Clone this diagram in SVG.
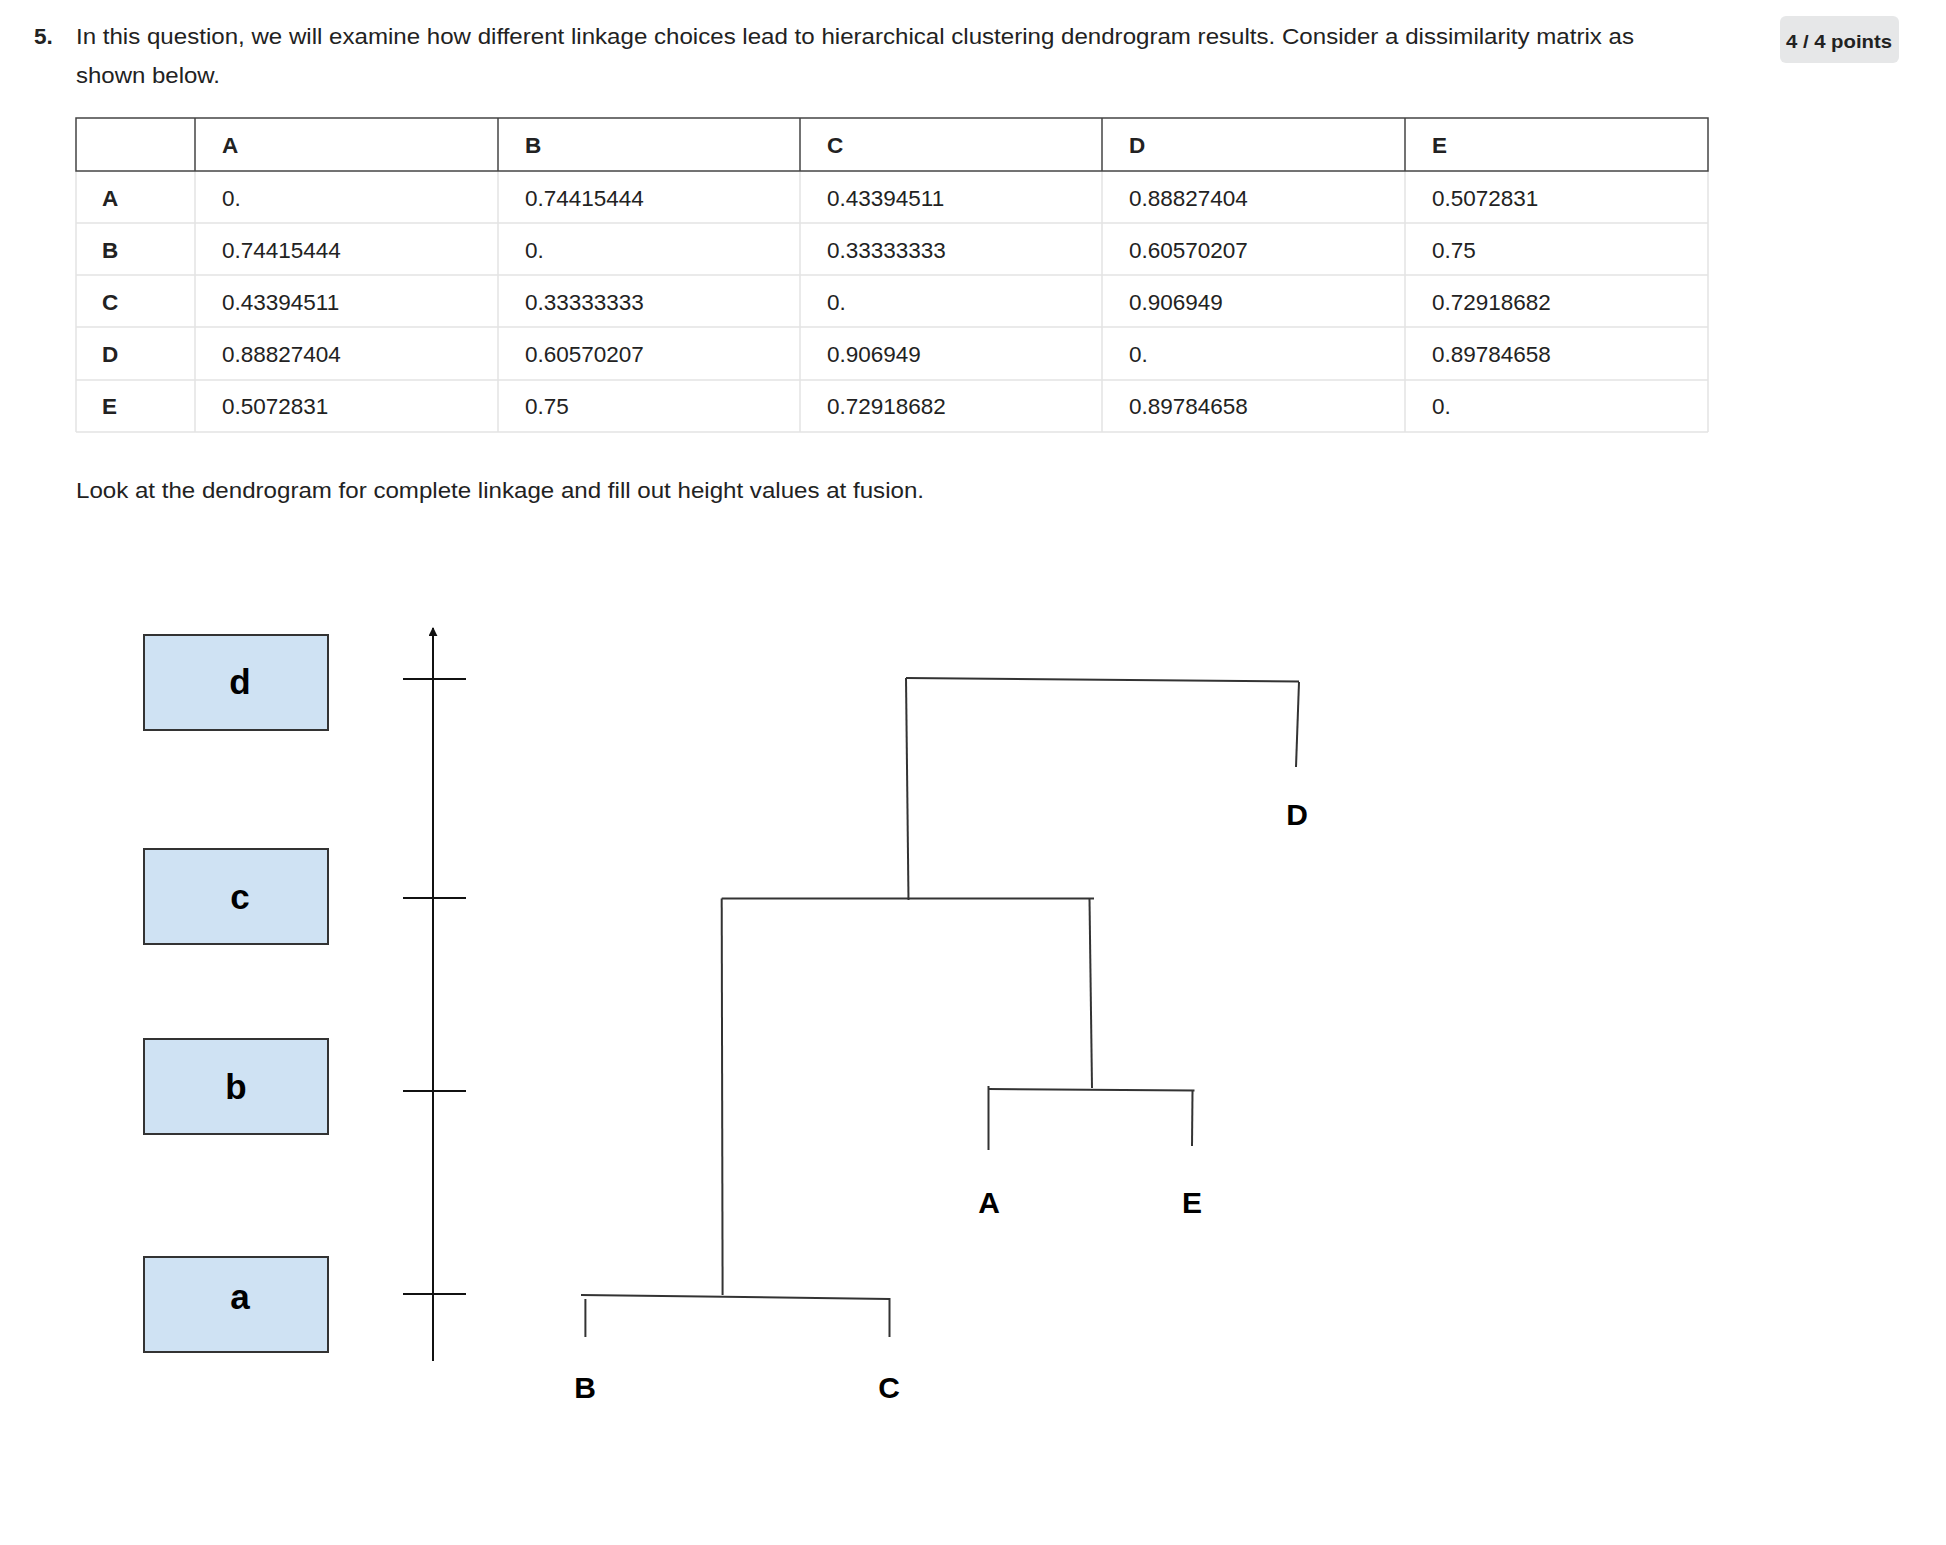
<svg xmlns="http://www.w3.org/2000/svg" width="1946" height="1545" viewBox="0 0 1946 1545">
<style>
.t{font-family:"Liberation Sans",Arial,sans-serif;fill:#222;font-size:22.5px}
.tb{font-family:"Liberation Sans",Arial,sans-serif;fill:#222;font-size:22.5px;font-weight:bold}
.hdr{stroke:#444;stroke-width:1.5;fill:none}
.cell{stroke:#e3e3e3;stroke-width:1.5;fill:none}
.box{fill:#cfe2f3;stroke:#333;stroke-width:2}
.bl{font-family:"Liberation Sans",Arial,sans-serif;font-weight:bold;font-size:35px;fill:#000;text-anchor:middle}
.leaf{font-family:"Liberation Sans",Arial,sans-serif;font-weight:bold;font-size:30px;fill:#000;text-anchor:middle}
.ln{stroke:#333;stroke-width:2;fill:none;stroke-linecap:butt}
.ax{stroke:#111;stroke-width:2;fill:none}
</style>
<defs>
<marker id="arr" viewBox="0 0 10 10" refX="9" refY="5" markerWidth="4.5" markerHeight="4.5" orient="auto" markerUnits="strokeWidth">
<path d="M0,0 L10,5 L0,10 z" fill="#111"/>
</marker>
</defs>
<rect width="1946" height="1545" fill="#fff"/>

<g id="question">
<text x="34" y="44" class="tb">5.</text>
<text x="76" y="44" class="t" textLength="1558" lengthAdjust="spacingAndGlyphs">In this question, we will examine how different linkage choices lead to hierarchical clustering dendrogram results. Consider a dissimilarity matrix as</text>
<text x="76" y="83" class="t" textLength="144" lengthAdjust="spacingAndGlyphs">shown below.</text>
</g>

<g id="badge">
<rect x="1780" y="16" width="119" height="47" rx="6" fill="#e6e7e8"/>
<text x="1786" y="48" font-family="Liberation Sans, Arial, sans-serif" font-weight="bold" font-size="19" fill="#222" textLength="106" lengthAdjust="spacingAndGlyphs">4 / 4 points</text>
</g>

<g id="matrix">
<g id="matrix-grid">
<line class="cell" x1="76" y1="223" x2="1708" y2="223"/>
<line class="cell" x1="76" y1="275" x2="1708" y2="275"/>
<line class="cell" x1="76" y1="327" x2="1708" y2="327"/>
<line class="cell" x1="76" y1="380" x2="1708" y2="380"/>
<line class="cell" x1="76" y1="432" x2="1708" y2="432"/>
<line class="cell" x1="76" y1="171" x2="76" y2="432"/>
<line class="cell" x1="195" y1="171" x2="195" y2="432"/>
<line class="cell" x1="498" y1="171" x2="498" y2="432"/>
<line class="cell" x1="800" y1="171" x2="800" y2="432"/>
<line class="cell" x1="1102" y1="171" x2="1102" y2="432"/>
<line class="cell" x1="1405" y1="171" x2="1405" y2="432"/>
<line class="cell" x1="1708" y1="171" x2="1708" y2="432"/>
<rect class="hdr" x="76" y="118" width="1632" height="53"/>
<line class="hdr" x1="195" y1="118" x2="195" y2="171"/>
<line class="hdr" x1="498" y1="118" x2="498" y2="171"/>
<line class="hdr" x1="800" y1="118" x2="800" y2="171"/>
<line class="hdr" x1="1102" y1="118" x2="1102" y2="171"/>
<line class="hdr" x1="1405" y1="118" x2="1405" y2="171"/>
</g>
<g id="matrix-header">
<text x="222" y="153" class="tb">A</text>
<text x="525" y="153" class="tb">B</text>
<text x="827" y="153" class="tb">C</text>
<text x="1129" y="153" class="tb">D</text>
<text x="1432" y="153" class="tb">E</text>
</g>
<g id="row-A">
<text x="102" y="206" class="tb">A</text>
<text x="222" y="206" class="t">0.</text>
<text x="525" y="206" class="t">0.74415444</text>
<text x="827" y="206" class="t">0.43394511</text>
<text x="1129" y="206" class="t">0.88827404</text>
<text x="1432" y="206" class="t">0.5072831</text>
</g>
<g id="row-B">
<text x="102" y="258" class="tb">B</text>
<text x="222" y="258" class="t">0.74415444</text>
<text x="525" y="258" class="t">0.</text>
<text x="827" y="258" class="t">0.33333333</text>
<text x="1129" y="258" class="t">0.60570207</text>
<text x="1432" y="258" class="t">0.75</text>
</g>
<g id="row-C">
<text x="102" y="310" class="tb">C</text>
<text x="222" y="310" class="t">0.43394511</text>
<text x="525" y="310" class="t">0.33333333</text>
<text x="827" y="310" class="t">0.</text>
<text x="1129" y="310" class="t">0.906949</text>
<text x="1432" y="310" class="t">0.72918682</text>
</g>
<g id="row-D">
<text x="102" y="362" class="tb">D</text>
<text x="222" y="362" class="t">0.88827404</text>
<text x="525" y="362" class="t">0.60570207</text>
<text x="827" y="362" class="t">0.906949</text>
<text x="1129" y="362" class="t">0.</text>
<text x="1432" y="362" class="t">0.89784658</text>
</g>
<g id="row-E">
<text x="102" y="414" class="tb">E</text>
<text x="222" y="414" class="t">0.5072831</text>
<text x="525" y="414" class="t">0.75</text>
<text x="827" y="414" class="t">0.72918682</text>
<text x="1129" y="414" class="t">0.89784658</text>
<text x="1432" y="414" class="t">0.</text>
</g>
</g>

<g id="instruction">
<text x="76" y="498" class="t" textLength="848" lengthAdjust="spacingAndGlyphs">Look at the dendrogram for complete linkage and fill out height values at fusion.</text>
</g>

<g id="box-d"><rect class="box" x="144" y="635" width="184" height="95"/><text class="bl" x="240" y="694">d</text></g>
<g id="box-c"><rect class="box" x="144" y="849" width="184" height="95"/><text class="bl" x="240" y="908.5">c</text></g>
<g id="box-b"><rect class="box" x="144" y="1039" width="184" height="95"/><text class="bl" x="236" y="1099">b</text></g>
<g id="box-a"><rect class="box" x="144" y="1257" width="184" height="95"/><text class="bl" x="240" y="1309">a</text></g>

<g id="axis">
<line class="ax" x1="433" y1="1361" x2="433" y2="628" marker-end="url(#arr)"/>
<line class="ax" x1="403" y1="679" x2="466" y2="679"/>
<line class="ax" x1="403" y1="898" x2="466" y2="898"/>
<line class="ax" x1="403" y1="1091" x2="466" y2="1091"/>
<line class="ax" x1="403" y1="1294" x2="466" y2="1294"/>
</g>

<g id="leaf-D"><text class="leaf" x="1297" y="825">D</text></g>
<g id="leaf-A"><text class="leaf" x="989" y="1213">A</text></g>
<g id="leaf-E"><text class="leaf" x="1192" y="1213">E</text></g>
<g id="leaf-B"><text class="leaf" x="585" y="1398">B</text></g>
<g id="leaf-C"><text class="leaf" x="889" y="1398">C</text></g>

<g id="connectors">
<line class="ln" x1="906" y1="678" x2="1299" y2="681.5"/>
<line class="ln" x1="906" y1="678" x2="908.5" y2="900"/>
<line class="ln" x1="1299" y1="682" x2="1296" y2="767"/>
<line class="ln" x1="721.7" y1="898.5" x2="1094" y2="898.5"/>
<line class="ln" x1="721.7" y1="898.5" x2="722.6" y2="1295"/>
<line class="ln" x1="1089.5" y1="899" x2="1092" y2="1088"/>
<line class="ln" x1="988" y1="1089" x2="1194.5" y2="1090.5"/>
<line class="ln" x1="988.5" y1="1086" x2="988.5" y2="1150"/>
<line class="ln" x1="1192.5" y1="1091" x2="1192" y2="1146"/>
<line class="ln" x1="581" y1="1295" x2="889.5" y2="1299"/>
<line class="ln" x1="585.4" y1="1299" x2="585.4" y2="1337"/>
<line class="ln" x1="889.5" y1="1298" x2="889.5" y2="1337"/>
</g>
</svg>
